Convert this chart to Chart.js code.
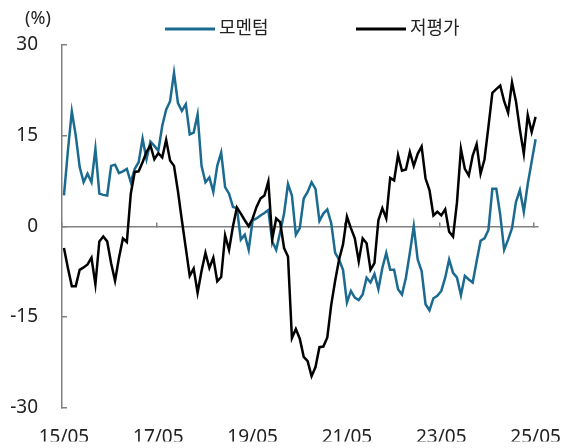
<!DOCTYPE html>
<html>
<head>
<meta charset="utf-8">
<script src="https://cdn.jsdelivr.net/npm/chart.js@4.4.0/dist/chart.umd.min.js"></script>
<style>
  html, body { margin: 0; padding: 0; background: #fff; }
</style>
</head>
<body>
<canvas id="chart" width="572" height="448"></canvas>
<script>
// monthly, 2015/05 .. 2025/05 (121 points)
const tickLabels = ['15/05', '17/05', '19/05', '21/05', '23/05', '25/05'];
const seriesNames = ['모멘텀', '저평가'];

const momentum = [
  5.1, 12.5, 19, 15, 9.8, 7.3, 8.7, 7.3, 12.8, 5.4,
  5.2, 5.1, 10, 10.2, 8.8, 9.1, 9.5, 7.3, 9.5, 10.6,
  14.5, 11.1, 14, 13.3, 12.5, 16.6, 19.3, 20.7, 25.4, 20.4,
  19.1, 20.2, 15.2, 15.5, 18.5, 10, 7.3, 8.1, 5.7, 10,
  12.2, 6.5, 5.4, 3.2, 3, -2.2, -1.4, -3.9, 1, 1.3,
  1.8, 2.2, 2.7, -2.5, -3.9, -1, 2.1, 7, 5.1, -1.4,
  -0.3, 4.6, 5.7, 7.3, 6.2, 0.9, 2.1, 2.8, 0.5, -4.4,
  -5.5, -7.2, -12.6, -10.7, -11.8, -12.2, -11.3, -8.5, -9.3, -7.9,
  -10.4, -6.9, -4.4, -7.2, -7.2, -10.4, -11.3, -8.5, -4.4, 0,
  -5.5, -7.4, -12.9, -13.9, -11.9, -11.5, -10.7, -8.5, -5.5, -7.7,
  -8.5, -11.4, -8.2, -8.8, -9.3, -5.8, -2.4, -2, -0.6, 6.2,
  6.2, 1.9, -3.9, -2.2, -0.3, 4, 6, 2.4, 7, 10.7,
  14.4
];

const undervalued = [
  -3.6, -6.9, -9.9, -9.9, -7.2, -6.8, -6.3, -5.2, -9.6, -2.5,
  -1.7, -2.5, -6.1, -9, -5.2, -2, -2.6, 5.4, 9, 9.1,
  10.6, 12.3, 13.4, 11.1, 12.1, 11.4, 14.3, 10.9, 10, 5.8,
  1, -3.6, -8.2, -7, -11, -7.4, -4.4, -6.9, -5.2, -9.1,
  -8.4, -1.5, -3.9, 0, 3.1, 2.1, 1, 0, 1.3, 3.2,
  4.6, 5.1, 7.4, -2.1, 1.3, 0.7, -3.6, -5, -18.5, -17,
  -18.6, -21.6, -22.3, -24.8, -23.3, -20, -19.9, -18.4, -13, -9,
  -5.5, -3, 1.6, -0.3, -2, -5.8, -2, -2.8, -7.2, -6.1,
  1, 3, 1.3, 8, 7.6, 11.8, 9.2, 9.4, 12.3, 10,
  12, 13.2, 7.9, 6, 1.8, 2.4, 1.8, 2.8, -0.9, -1.7,
  4, 12.8, 9.5, 8.4, 11.7, 13.6, 8.7, 11.1, 16.5, 22.1,
  22.7, 23.3, 20.7, 18.8, 23.8, 20.7, 16, 12, 18.4, 15.6,
  18.1
];

const blue = '#1b6a90';
const black = '#000000';
const axisColor = '#808080';
const textColor = '#222222';
const step = 24; // months between labels

Chart.defaults.font.family = "'Noto Sans', 'Noto Sans CJK KR', sans-serif";
Chart.defaults.color = textColor;

const toPoints = (arr) => arr.map((v, i) => ({ x: i, y: v }));

// legend + unit label drawn on top
const topTexts = {
  id: 'topTexts',
  afterDraw(chart) {
    const ctx = chart.ctx;
    ctx.save();
    ctx.font = "18px 'Noto Sans', 'Noto Sans CJK KR', sans-serif";
    ctx.fillStyle = textColor;
    ctx.textBaseline = 'middle';
    ctx.textAlign = 'center';
    ctx.fillText('(%)', 38, 19);

    const starts = [165, 356];
    chart.data.datasets.forEach((ds, i) => {
      const x = starts[i];
      ctx.strokeStyle = ds.borderColor;
      ctx.lineWidth = 3;
      ctx.beginPath();
      ctx.moveTo(x, 29);
      ctx.lineTo(x + 50, 29);
      ctx.stroke();
      ctx.textAlign = 'left';
      ctx.fillStyle = textColor;
      ctx.fillText(ds.label, x + 54, 29);
    });
    ctx.restore();
  }
};

new Chart(document.getElementById('chart'), {
  type: 'line',
  data: {
    datasets: [
      {
        label: seriesNames[0],
        data: toPoints(momentum),
        borderColor: blue,
        backgroundColor: blue,
        borderWidth: 2.5,
        order: 1
      },
      {
        label: seriesNames[1],
        data: toPoints(undervalued),
        borderColor: black,
        backgroundColor: black,
        borderWidth: 2.5,
        order: 0
      }
    ]
  },
  options: {
    responsive: false,
    animation: false,
    layout: { padding: { top: 45, right: 31, left: 0, bottom: 0 } },
    elements: {
      point: { radius: 0 },
      line: { tension: 0 }
    },
    plugins: {
      legend: { display: false },
      tooltip: { enabled: false }
    },
    scales: {
      x: {
        type: 'linear',
        min: -0.5,
        max: momentum.length - 0.5,
        afterBuildTicks: (s) => {
          s.ticks = tickLabels.map((_, k) => ({ value: k * step }));
        },
        afterFit: (s) => { s.height = 34; },
        grid: { display: false },
        border: { display: false },
        ticks: {
          autoSkip: false,
          maxRotation: 0,
          padding: 11,
          font: { size: 19 },
          callback: (v) => tickLabels[Math.round(v / step)]
        }
      },
      x2: {
        type: 'linear',
        position: { y: 0 },
        min: -0.5,
        max: momentum.length - 0.5,
        afterBuildTicks: (s) => {
          s.ticks = tickLabels.map((_, k) => ({ value: k * step - 0.5 }));
        },
        ticks: { display: false },
        grid: {
          drawOnChartArea: false,
          drawTicks: true,
          tickLength: -5,
          color: axisColor,
          lineWidth: 1.5
        },
        border: { display: true, color: axisColor, width: 1.5 }
      },
      y: {
        min: -30,
        max: 30,
        afterFit: (s) => { s.width = 62; },
        ticks: {
          stepSize: 15,
          padding: 29,
          font: { size: 19 }
        },
        grid: {
          drawOnChartArea: false,
          drawTicks: true,
          tickLength: -5,
          color: axisColor,
          lineWidth: 1.5
        },
        border: { display: true, color: axisColor, width: 1.5 }
      }
    }
  },
  plugins: [topTexts]
});
</script>
</body>
</html>
